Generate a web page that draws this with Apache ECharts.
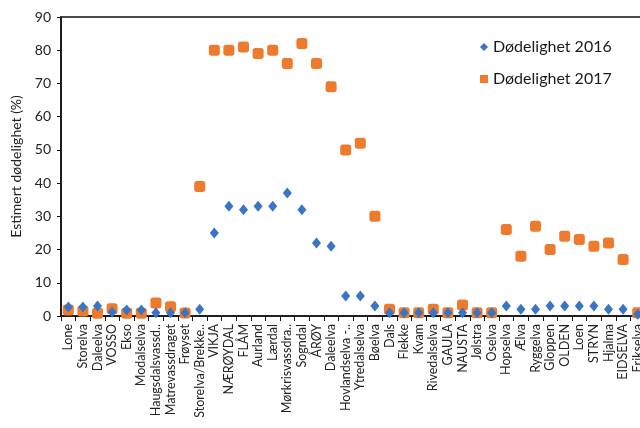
<!DOCTYPE html>
<html>
<head>
<meta charset="utf-8">
<script src="https://cdn.jsdelivr.net/npm/echarts@6/dist/echarts.min.js"></script>
<style>
  html, body { margin: 0; padding: 0; overflow: hidden; background: #fff; }
  #chart { width: 660px; height: 428px; }
</style>
</head>
<body>
<div id="chart"></div>
<script>
// Rivers along the x axis
const rivers = [
  'Lone', 'Storelva', 'Daleelva', 'VOSSO', 'Ekso', 'Modalselva', 'Haugsdalsvassd..',
  'Matrevassdraget', 'Frøyset', 'Storelva/Brekke..', 'VIKJA', 'NÆRØYDAL', 'FLÅM',
  'Aurland', 'Lærdal', 'Mørkrisvassdra..', 'Sogndal', 'ÅRØY', 'Daleelva ',
  'Hovlandselva -..', 'Ytredalselva', 'Bøelva', 'Dals', 'Flekke', 'Kvam',
  'Rivedalselva', 'GAULA', 'NAUSTA', 'Jølstra', 'Oselva', 'Hopselva', 'Ælva',
  'Ryggelva', 'Gloppen', 'OLDEN', 'Loen', 'STRYN', 'Hjalma', 'EIDSELVA', 'Erikselva'
];

// Estimated mortality (%) per river
const mortality2016 = [
  2.7, 2.7, 3, 1.2, 1.8, 1.8, 1, 1, 1, 2,
  25, 33, 32, 33, 33, 37, 32, 22, 21, 6,
  6, 3, 1, 1, 1, 1, 1, 1, 1, 1,
  3, 2, 2, 3, 3, 3, 3, 2, 2, 0.5
];
const mortality2017 = [
  1.8, 1.5, 0.8, 2.2, 0.8, 0.8, 3.9, 2.8, 0.9, 39,
  80, 80, 81, 79, 80, 76, 82, 76, 69, 50,
  52, 30, 2, 1, 1, 2, 1, 3.3, 1, 1,
  26, 18, 27, 20, 24, 23, 21, 22, 17, 1
];

const yTicks = [0, 10, 20, 30, 40, 50, 60, 70, 80, 90];

const blue = '#3a75c4';
const orange = '#ee7a2e';
const font = 'Lato, "Open Sans", sans-serif';

const chart = echarts.init(document.getElementById('chart'));
chart.setOption({
  animation: false,
  textStyle: { fontFamily: font },
  grid: {
    left: 61, top: 17, right: 15, bottom: 112,
    show: true, borderColor: '#111', borderWidth: 1.5
  },
  legend: {
    orient: 'vertical',
    left: 475, top: 33,
    itemWidth: 8, itemHeight: 8, itemGap: 14,
    textStyle: { fontSize: 16, color: '#1a1a1a', fontFamily: font, lineHeight: 18 },
    data: [
      { name: 'Dødelighet 2016', icon: 'diamond' },
      { name: 'Dødelighet 2017', icon: 'rect' }
    ]
  },
  xAxis: {
    type: 'category',
    data: rivers,
    boundaryGap: true,
    axisLine: { lineStyle: { color: '#111', width: 1.5 } },
    axisTick: { show: true, length: 5, lineStyle: { color: '#111', width: 1 }, alignWithLabel: false },
    axisLabel: {
      interval: 0, rotate: 90, fontSize: 12.5, color: '#222', margin: 8,
      formatter: v => v.trim()
    },
    splitLine: { show: false }
  },
  yAxis: {
    type: 'value',
    min: yTicks[0], max: yTicks[yTicks.length - 1], interval: 10,
    name: 'Estimert dødelighet (%)',
    nameLocation: 'middle', nameGap: 38,
    nameTextStyle: { fontSize: 14, color: '#222', fontFamily: font },
    axisLine: { show: true, lineStyle: { color: '#111', width: 1.5 } },
    axisTick: { show: true, length: 4, lineStyle: { color: '#111' } },
    axisLabel: { fontSize: 14, color: '#222', margin: 10 },
    splitLine: { show: false }
  },
  series: [
    {
      name: 'Dødelighet 2017',
      type: 'scatter',
      data: mortality2017,
      symbol: 'roundRect',
      symbolSize: 11,
      itemStyle: { color: orange, opacity: 1 },
      z: 2
    },
    {
      name: 'Dødelighet 2016',
      type: 'scatter',
      data: mortality2016,
      symbol: 'diamond',
      symbolSize: [9, 11],
      itemStyle: { color: blue, opacity: 1 },
      z: 3
    }
  ]
});
</script>
</body>
</html>
